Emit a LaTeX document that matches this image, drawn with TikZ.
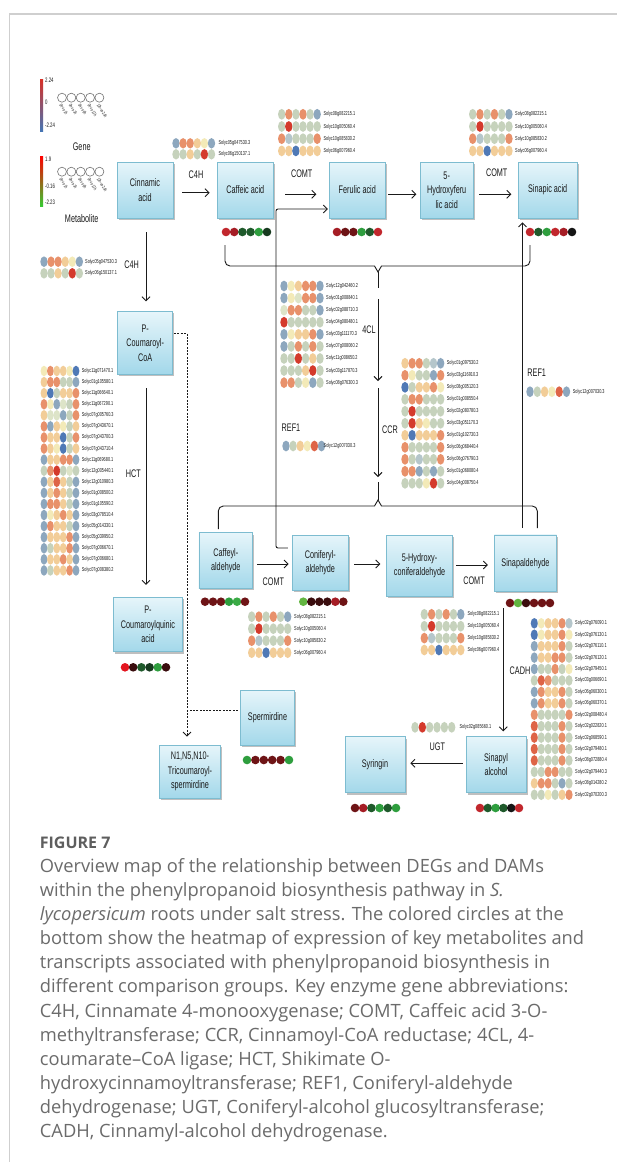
\documentclass[tikz,border=0pt]{standalone}
\usepackage{fontspec}
\setmainfont{Open Sans}
\newfontfamily\nar[FakeStretch=0.66]{Liberation Sans}
\usetikzlibrary{arrows.meta,calc,shadows}
\definecolor{hB}{HTML}{4F79B6}
\definecolor{hG}{HTML}{8DA7BE}
\definecolor{hL}{HTML}{B5C6CB}
\definecolor{hS}{HTML}{C6D2BC}
\definecolor{hP}{HTML}{DDE4C8}
\definecolor{hC}{HTML}{F3EAB8}
\definecolor{hK}{HTML}{F2CD98}
\definecolor{hO}{HTML}{E8916B}
\definecolor{hQ}{HTML}{DE6447}
\definecolor{hR}{HTML}{D43A2C}
\definecolor{mR}{HTML}{C1272D}
\definecolor{mRR}{HTML}{E3151F}
\definecolor{mR2}{HTML}{A51D25}
\definecolor{mDR}{HTML}{6E1416}
\definecolor{mDK}{HTML}{3A0D0E}
\definecolor{mDG}{HTML}{1F5A2B}
\definecolor{mG}{HTML}{2E9E3E}
\definecolor{mG2}{HTML}{3AAA45}
\definecolor{mLG}{HTML}{62B540}
\definecolor{mBG}{HTML}{173A1F}
\definecolor{mBK}{HTML}{151515}
\definecolor{boxtop}{HTML}{E6F5FA}
\definecolor{boxbot}{HTML}{A3D8EA}
\definecolor{boxdraw}{HTML}{7DBCD0}
\definecolor{txt}{HTML}{1A1A1A}
\definecolor{capgray}{HTML}{6B6B6B}
\definecolor{figgray}{HTML}{5E5E5E}
\definecolor{framegray}{HTML}{CFCFCF}

\newcommand{\hmap}[9]{%
  \foreach \hmcols/\hml [count=\hmr] in #9 {%
    \foreach \hmc [count=\hmi] in \hmcols {%
      \fill[\hmc] ({#2+(\hmi-1)*#4},{#3+(\hmr-1)*#5}) ellipse [x radius=#6pt, y radius=#7pt];
    }%
    \node[genelab] (#1\hmr) at (#8,{#3+(\hmr-1)*#5}) {\hml};
  }%
}
\newcommand{\mdots}[4]{%
  \foreach \hmc [count=\hmi] in {#4} {\fill[\hmc] ({#1+(\hmi-1)*#3},#2) circle [radius=4.3pt];}%
}

\def\rowsCfour{{hG,hO,hO,hK,hC,hG}/Solyc05g047530.3,{hS,hS,hK,hS,hR,hS}/Solyc06g150137.1}
\def\rowsComt{{hS,hO,hS,hO,hS,hG}/Solyc08g082215.1,{hS,hR,hS,hS,hS,hS}/Solyc10g005060.4,{hO,hL,hS,hS,hS,hO}/Solyc10g085830.2,{hK,hK,hB,hK,hK,hK}/Solyc06g007960.4}
\def\rowsRef{{hG,hS,hK,hC,hQ,hG}/Solyc12g007030.3}
\def\rowsUgt{{hS,hR,hS,hS,hS,hS}/Solyc02g085660.1}
\def\rowsHct{{hC,hO,hK,hK,hC,hB}/Solyc11g071470.1,%
{hK,hO,hO,hS,hS,hG}/Solyc01g105580.1,%
{hK,hB,hS,hK,hK,hO}/Solyc11g066640.1,%
{hO,hC,hG,hP,hS,hO}/Solyc11g067290.1,%
{hK,hP,hP,hG,hS,hO}/Solyc07g005760.3,%
{hO,hG,hK,hC,hS,hK}/Solyc07g043670.1,%
{hO,hK,hK,hB,hS,hO}/Solyc07g043700.3,%
{hO,hK,hC,hB,hS,hK}/Solyc07g043710.4,%
{hG,hK,hK,hO,hO,hG}/Solyc11g069680.1,%
{hS,hO,hR,hS,hP,hS}/Solyc12g005440.1,%
{hG,hK,hQ,hK,hS,hG}/Solyc12g010980.3,%
{hG,hK,hO,hK,hS,hG}/Solyc01g008500.2,%
{hG,hO,hO,hK,hS,hG}/Solyc01g105590.2,%
{hG,hC,hK,hO,hK,hG}/Solyc03g078510.4,%
{hG,hO,hK,hK,hS,hG}/Solyc05g014330.1,%
{hG,hK,hK,hK,hO,hG}/Solyc05g039950.2,%
{hG,hS,hK,hK,hO,hG}/Solyc07g006670.1,%
{hG,hK,hK,hO,hK,hG}/Solyc07g006680.1,%
{hG,hS,hK,hK,hO,hG}/Solyc07g008380.2}
\def\rowsFcl{{hG,hC,hK,hO,hO,hG}/Solyc12g042460.2,%
{hG,hC,hP,hO,hO,hG}/Solyc01g008840.1,%
{hP,hO,hO,hS,hS,hG}/Solyc02g088710.3,%
{hR,hS,hS,hS,hS,hS}/Solyc04g080480.1,%
{hG,hC,hK,hK,hO,hG}/Solyc03g111170.3,%
{hG,hS,hO,hS,hO,hS}/Solyc07g008060.2,%
{hS,hS,hR,hS,hK,hS}/Solyc11g008650.2,%
{hS,hS,hS,hK,hR,hS}/Solyc03g117870.3,%
{hO,hO,hS,hC,hG,hS}/Solyc08g076300.3}
\def\rowsCcr{{hK,hO,hO,hS,hL,hG}/Solyc01g097530.2,%
{hO,hC,hS,hS,hG,hO}/Solyc03g116910.3,%
{hB,hS,hK,hK,hO,hC}/Solyc08g005120.3,%
{hS,hO,hO,hS,hS,hS}/Solyc01g008550.4,%
{hS,hR,hS,hS,hS,hS}/Solyc02g080780.3,%
{hS,hR,hK,hC,hS,hS}/Solyc03g051170.3,%
{hK,hB,hK,hK,hK,hO}/Solyc01g102730.3,%
{hO,hS,hS,hS,hS,hO}/Solyc06g068440.4,%
{hO,hS,hL,hS,hS,hO}/Solyc06g076790.3,%
{hO,hO,hG,hS,hG,hS}/Solyc01g068080.4,%
{hS,hS,hS,hC,hR,hS}/Solyc04g008750.4}
\def\rowsCadh{{hB,hC,hK,hK,hO,hL}/Solyc02g076090.1,%
{hB,hC,hK,hK,hO,hC}/Solyc02g076130.1,%
{hG,hK,hK,hK,hO,hS}/Solyc02g076110.1,%
{hG,hK,hK,hO,hO,hS}/Solyc02g076120.1,%
{hG,hS,hS,hO,hS,hC}/Solyc02g079450.1,%
{hS,hQ,hO,hS,hS,hS}/Solyc03g006690.1,%
{hG,hO,hK,hK,hO,hS}/Solyc06g060300.1,%
{hG,hO,hK,hK,hO,hS}/Solyc06g060370.1,%
{hO,hS,hS,hS,hS,hO}/Solyc02g008480.4,%
{hQ,hS,hS,hS,hO,hS}/Solyc02g022820.1,%
{hQ,hS,hS,hS,hO,hS}/Solyc02g068590.1,%
{hQ,hS,hS,hS,hO,hS}/Solyc02g079480.1,%
{hQ,hS,hS,hS,hO,hS}/Solyc08g072880.4,%
{hS,hS,hO,hO,hS,hS}/Solyc02g079440.3,%
{hK,hO,hO,hS,hG,hS}/Solyc08g014280.2,%
{hS,hS,hC,hS,hK,hO}/Solyc02g070200.3}

\begin{document}
\begin{tikzpicture}[x=1pt,y=-1pt,
  box/.style={draw=boxdraw, line width=0.7pt, top color=boxtop, bottom color=boxbot,
    inner sep=1pt, align=center, font=\nar\fontsize{11}{14.5}\selectfont, text=txt,
    drop shadow={shadow xshift=1.5pt,shadow yshift=-1.8pt,fill=black!50,opacity=0.5}},
  enz/.style={font=\nar\fontsize{11}{13}\selectfont, text=txt, inner sep=0pt},
  genelab/.style={font=\nar\fontsize{5.8}{6}\selectfont, anchor=west, inner sep=0pt, text=txt},
  leglab/.style={font=\nar\fontsize{6.5}{7}\selectfont, anchor=west, inner sep=0pt, text=txt},
  rotlab/.style={font=\nar\fontsize{4.6}{5}\selectfont, anchor=west, inner sep=0pt, rotate=-58, text=txt},
  arr/.style={draw=txt, line width=0.9pt, -{Straight Barb[length=4pt,width=8pt]}},
  ln/.style={draw=txt, line width=0.9pt},
  dl/.style={draw=txt, line width=0.9pt, dash pattern=on 2pt off 1.3pt},
  capt/.style={anchor=base west, inner sep=0pt, text=capgray, font=\fontsize{18.3}{24}\selectfont},
]
\fill[white] (0,0) rectangle (617,1162);
\useasboundingbox (0,0) rectangle (617,1162);
\draw[framegray, line width=1.3pt] (9,14) -- (617,14);
\draw[framegray, line width=0.6pt] (9,14) -- (9,1162);

% ---------- legend ----------
\shade[top color={rgb,255:red,215;green,48;blue,39}, middle color={rgb,255:red,255;green,255;blue,191}, bottom color={rgb,255:red,69;green,117;blue,180}] (40,79.3) rectangle (43,131);
\shade[top color={rgb,255:red,255;green,0;blue,0}, middle color=black, bottom color={rgb,255:red,51;green,204;blue,51}] (40,156) rectangle (43,206.7);
\node[leglab] (lg1) at (45,80.7) {2.24};
\node[leglab] (lg2) at (45,102) {0};
\node[leglab] (lg3) at (45,125) {-2.24};
\node[leglab] (lm1) at (45,159.3) {1.9};
\node[leglab] (lm2) at (45,186.7) {-0.16};
\node[leglab] (lm3) at (45,202.3) {-2.23};
\foreach \k in {0,...,4} {
  \draw[black!55, line width=0.6pt] ({62+\k*9.35},97.7) circle [radius=4.5pt];
  \draw[black!55, line width=0.6pt] ({62+\k*9.35},171.7) circle [radius=4.5pt];
}
\foreach \t [count=\k from 0] in {0h-vs-1h,0h-vs-3h,0h-vs-6h,0h-vs-12h,12h-vs-24h} {
  \node[rotlab] (gr\k) at ({60.5+\k*9.35},104) {\t};
  \node[rotlab] (mr\k) at ({60.5+\k*9.35},178) {\t};
}
\node[enz] (gene) at (81.7,146.7) {Gene};
\node[enz] (metab) at (81.7,218.5) {Metabolite};

% ---------- boxes ----------
\node[box, minimum width=56pt, minimum height=56pt] (cin) at (145,190) {Cinnamic\\acid};
\node[box, minimum width=56pt, minimum height=56pt] (caf) at (245.3,190) {Caffeic acid};
\node[box, minimum width=56pt, minimum height=56pt] (fer) at (357.3,190) {Ferulic acid};
\node[box, minimum width=53.3pt, minimum height=56pt] (hfer) at (446.7,190) {5-\\Hydroxyferu\\lic acid};
\node[box, minimum width=59.3pt, minimum height=56pt] (sinac) at (547.7,190) {Sinapic acid};
\node[box, minimum width=55pt, minimum height=62.3pt] (pcoa) at (145.2,342.8) {P-\\Coumaroyl-\\CoA};
\node[box, minimum width=69.4pt, minimum height=54.4pt] (pqa) at (148,624.5) {P-\\Coumaroylquinic\\acid};
\node[box, minimum width=53.7pt, minimum height=55.6pt] (cald) at (225.8,560.5) {Caffeyl-\\aldehyde};
\node[box, minimum width=56pt, minimum height=55pt] (conald) at (320.3,562.5) {Coniferyl-\\aldehyde};
\node[box, minimum width=65.6pt, minimum height=61pt] (hcald) at (419.5,565.5) {5-Hydroxy-\\coniferaldehyde};
\node[box, minimum width=62.4pt, minimum height=56.7pt] (sinald) at (525.5,563.3) {Sinapaldehyde};
\node[box, minimum width=53.6pt, minimum height=55pt] (sperm) at (267.5,717.5) {Spermirdine};
\node[box, minimum width=61.4pt, minimum height=53pt] (n1) at (190,771.5) {N1,N5,N10-\\Tricoumaroyl-\\spermirdine};
\node[box, minimum width=60pt, minimum height=56pt] (syr) at (375,764.7) {Syringin};
\node[box, minimum width=60pt, minimum height=56pt] (sinalc) at (496,764.7) {Sinapyl\\alcohol};

% ---------- metabolite dots ----------
\mdots{226}{232}{8.2}{mR,mR2,mDG,mDG,mG,mBG}
\mdots{337}{232}{8.2}{mR2,mDR,mDR,mG,mDG,mR}
\mdots{530}{232}{8.4}{mR,mDG,mG,mR,mR2,mBK}
\mdots{205}{601.7}{8}{mDR,mDR,mDR,mG,mG2,mDR}
\mdots{303.3}{601.7}{8}{mLG,mDK,mDK,mDK,mR2,mDR}
\mdots{510}{603}{8}{mDR,mLG,mDK,mDR,mDR,mDR}
\mdots{125}{667.3}{8.2}{mRR,mDK,mDG,mBG,mG,mDK}
\mdots{247}{760}{8.4}{mG,mDR,mDR,mDR,mDR,mG}
\mdots{355}{808}{8.2}{mDR,mR2,mDG,mG,mDG,mG}
\mdots{480}{808}{7.8}{mR,mDG,mG,mDG,mBK,mR}

% ---------- gene heatmaps ----------
\hmap{cfa}{176}{143.3}{7.1}{11}{3.7}{5.2}{218.3}{\rowsCfour}
\hmap{cma}{281.7}{114.3}{7.1}{12.2}{3.7}{5.4}{323.3}{\rowsComt}
\hmap{cmb}{472.7}{114.3}{7.25}{12.2}{3.7}{5.4}{515}{\rowsComt}
\hmap{cfb}{44}{261.7}{7.07}{11.6}{3.7}{5.3}{85}{\rowsCfour}
\hmap{hct}{44}{371}{6.4}{11.08}{3.4}{5.3}{81.7}{\rowsHct}
\hmap{fcl}{284}{286}{7.2}{12.08}{3.7}{5.4}{326}{\rowsFcl}
\hmap{ccr}{405}{363.3}{7.13}{12}{3.7}{5.4}{446.7}{\rowsCcr}
\hmap{rfa}{286}{446}{7.1}{12}{3.7}{5.4}{323.5}{\rowsRef}
\hmap{rfb}{530}{391.7}{7.3}{12}{3.7}{5.4}{572.7}{\rowsRef}
\hmap{cmc}{251.7}{616.7}{7.2}{12}{3.7}{5.4}{294}{\rowsComt}
\hmap{cmd}{424.3}{614.3}{7.3}{11.9}{3.7}{5.4}{467.3}{\rowsComt}
\hmap{cad}{534.3}{623.3}{6.94}{11.43}{3.6}{5.3}{575}{\rowsCadh}
\hmap{ugt}{415}{727.3}{7.34}{12}{3.7}{5.4}{459.3}{\rowsUgt}

% ---------- enzyme labels ----------
\node[enz] (eC4Ha) at (196,175) {C4H};
\node[enz] (eCOMTa) at (301.7,173.3) {COMT};
\node[enz] (eCOMTb) at (496.7,173) {COMT};
\node[enz] (eC4Hb) at (131.7,265) {C4H};
\node[enz] (eHCT) at (133.3,473.3) {HCT};
\node[enz] (e4CL) at (369,330) {4CL};
\node[enz] (eCCR) at (390,430) {CCR};
\node[enz] (eREFa) at (291,428) {REF1};
\node[enz] (eREFb) at (536.7,372.7) {REF1};
\node[enz] (eCOMTc) at (273.3,581.7) {COMT};
\node[enz] (eCOMTd) at (474,580.7) {COMT};
\node[enz] (eCADH) at (520,671) {CADH};
\node[enz] (eUGT) at (437.3,746.7) {UGT};

% ---------- connectors ----------
\draw[arr, shorten <=9pt, shorten >=7.3pt] ($(cin.east)+(0,2.7)$) -- ($(caf.west)+(0,2.7)$);
\draw[arr, shorten <=11.7pt, shorten >=12.6pt] ($(caf.east)+(0,4.3)$) -- ($(fer.west)+(0,4.3)$);
\draw[arr, shorten <=2.7pt, shorten >=3.3pt] ($(fer.east)+(0,4.3)$) -- ($(hfer.west)+(0,4.3)$);
\draw[arr, shorten <=5.7pt, shorten >=6.3pt] ($(hfer.east)+(0,4.3)$) -- ($(sinac.west)+(0,4.3)$);

\draw[arr, shorten <=4pt, shorten >=3.3pt] ($(cald.east)+(0,3.5)$) -- ($(conald.west)+(0,1.5)$);
\draw[arr, shorten <=5.7pt, shorten >=6pt] ($(conald.east)+(0,1.5)$) -- ($(hcald.west)+(0,-1.5)$);
\draw[arr, shorten <=3.7pt, shorten >=6pt] ($(hcald.east)+(0,-0.5)$) -- ($(sinald.west)+(0,1.7)$);

\draw[arr, shorten <=14pt, shorten >=10pt] ($(cin.south)+(1,0)$) -- ($(pcoa.north)+(0.8,0)$);
\draw[arr, shorten <=14pt, shorten >=12pt] ($(pcoa.south)+(0.8,0)$) -- ($(pqa.north)+(-2,0)$);

\coordinate (dshx) at (187,0);
\coordinate (ds1) at ($(pcoa.east)+(1,-9.5)$);
\coordinate (ds2) at ($(sperm.west)+(-2.5,-7.5)$);
\draw[dl, -{Straight Barb[length=4pt,width=8pt]}, shorten >=8pt] (ds1) -- (ds1 -| dshx) -- (n1.north -| dshx);
\draw[dl] (ds2) -- (ds2 -| dshx);

\coordinate (refLx) at (276,0);
\coordinate (r1s) at ($(conald.west)+(-4,-14.5)$);
\coordinate (r1e) at ($(fer.west)+(-1,19)$);
\draw[arr, rounded corners=2pt] (r1s) -- (r1s -| refLx) -- (r1e -| refLx) -- (r1e);

\coordinate (refRx) at (522.5,0);
\draw[arr, shorten <=7pt, shorten >=4pt] (sinald.north -| refRx) -- (sinac.south -| refRx);

\coordinate (cadhx) at (503.3,0);
\draw[arr, shorten <=16pt, shorten >=5pt] (sinald.south -| cadhx) -- (sinalc.north -| cadhx);

\draw[arr, shorten <=2.7pt, shorten >=5pt] ($(sinalc.west)+(0,-1.4)$) -- ($(syr.east)+(0,-1.4)$);

% upper bracket
\coordinate (bk1L) at (225,245);
\coordinate (bk1R) at (530,245);
\coordinate (bk1T) at (378,272);
\draw[ln] (bk1L) -- (225,261) to[out=-90,in=180] (230,266) -- (374.5,266) -- (bk1T) -- (381.5,266) -- (525,266) to[out=0,in=-90] (530,261) -- (bk1R);
\coordinate (bk1B) at (378,288);
\draw[ln] (bk1T) -- (bk1B);
\coordinate (a4s) at (378,299);
\coordinate (a4e) at (378,381);
\draw[arr] (a4s) -- (a4e);
\coordinate (ccs) at (378,388);
\coordinate (cce) at (378,477);
\draw[arr] (ccs) -- (cce);
% lower bracket
\coordinate (bk2L) at (218.3,529);
\coordinate (bk2R) at (537.3,528);
\coordinate (bk2T) at (378,500);
\draw[ln] (bk2L) -- (218.3,511) to[out=90,in=180] (223.3,506) -- (374.5,506) -- (bk2T) -- (381.5,506) -- (532.3,506) to[out=0,in=90] (537.3,511) -- (bk2R);
\coordinate (bk2U) at (378,482);
\draw[ln] (bk2T) -- (bk2U);

% ---------- caption ----------
\node[anchor=base west, inner sep=0pt, text=figgray, font=\fontsize{16}{18}\selectfont\bfseries] (fig) at (39.7,848.3) {FIGURE 7};
\node[capt] (cl1) at (39.7,872.7) {Overview map of the relationship between DEGs and DAMs};
\node[capt] (cl2) at (39.7,896.75) {within the phenylpropanoid biosynthesis pathway in \textit{S.}};
\node[capt] (cl3) at (39.7,920.8) {\textit{lycopersicum} roots under salt stress. The colored circles at the};
\node[capt] (cl4) at (39.7,944.85) {bottom show the heatmap of expression of key metabolites and};
\node[capt] (cl5) at (39.7,968.9) {transcripts associated with phenylpropanoid biosynthesis in};
\node[capt] (cl6) at (39.7,992.95) {different comparison groups. Key enzyme gene abbreviations:};
\node[capt] (cl7) at (39.7,1017) {C4H, Cinnamate 4-monooxygenase; COMT, Caffeic acid 3-O-};
\node[capt] (cl8) at (39.7,1041.05) {methyltransferase; CCR, Cinnamoyl-CoA reductase; 4CL, 4-};
\node[capt] (cl9) at (39.7,1065.1) {coumarate–CoA ligase; HCT, Shikimate O-};
\node[capt] (cl10) at (39.7,1089.15) {hydroxycinnamoyltransferase; REF1, Coniferyl-aldehyde};
\node[capt] (cl11) at (39.7,1113.2) {dehydrogenase; UGT, Coniferyl-alcohol glucosyltransferase;};
\node[capt] (cl12) at (39.7,1137.25) {CADH, Cinnamyl-alcohol dehydrogenase.};
\end{tikzpicture}
\end{document}
